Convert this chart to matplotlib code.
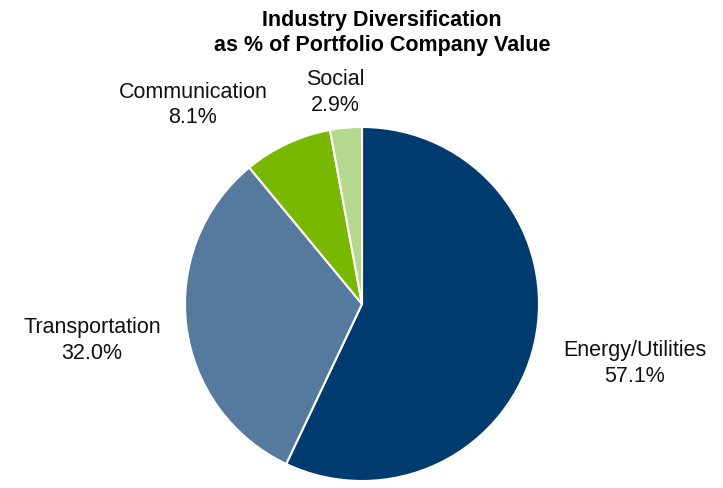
import matplotlib
matplotlib.use("Agg")
import matplotlib.pyplot as plt

plt.rcParams["font.family"] = ["Liberation Sans", "DejaVu Sans"]

# Pie data, clockwise from 12 o'clock
SECTORS = ["Energy/Utilities", "Transportation", "Communication", "Social"]
SHARES = [57.1, 32.0, 8.1, 2.9]
COLORS = ["#003B6F", "#56799E", "#78B800", "#B4D98E"]

# label centres in pie-radius units (layout only)
LABEL_POS = [(1.54, -0.33), (-1.525, -0.20), (-0.955, 1.13), (-0.15, 1.20)]

W, H, DPI = 723, 489, 100
CX, CY, R = 362, 305, 177  # pie centre / radius in pixels (y from top)

fig = plt.figure(figsize=(W / DPI, H / DPI), dpi=DPI)
ax = fig.add_axes([0, 0, 1, 1])

ax.pie(SHARES, colors=COLORS, startangle=90, counterclock=False,
       radius=1.0, wedgeprops=dict(edgecolor="white", linewidth=1.5))

ax.set_xlim(-CX / R, (W - CX) / R)
ax.set_ylim(-(H - CY) / R, CY / R)
ax.set_aspect("equal")
ax.axis("off")

for name, share, (lx, ly) in zip(SECTORS, SHARES, LABEL_POS):
    ax.text(lx, ly, f"{name}\n{share:.1f}%", ha="center", va="center",
            fontsize=15.5, linespacing=1.3, color="#111111")

fig.text(382 / W, 1 - 33 / H,
         "Industry Diversification\nas % of Portfolio Company Value",
         ha="center", va="center", fontsize=15.5, fontweight="bold",
         linespacing=1.25)

fig.savefig("out.png", dpi=DPI)
